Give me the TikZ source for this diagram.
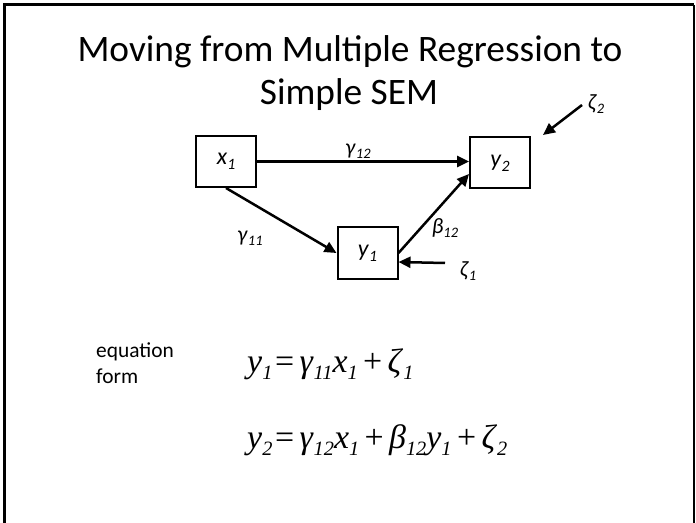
\documentclass[tikz,border=0pt]{standalone}
\usepackage{fontspec}
\usepackage{graphicx}
\setmainfont{Carlito}
\newfontfamily\eqfont{Liberation Serif}
\usetikzlibrary{arrows.meta}
\newcommand\myv[2]{\textit{#1}\raisebox{-0.2em}{\scalebox{0.66}{\textit{#2}}}}
\newcommand\myq[2]{\textit{#1}\raisebox{-0.22em}{\scalebox{0.6}{\textit{#2}}}}
\newcommand\gp{\hspace{0.16em}}
\newcommand\gq{\hspace{0.08em}}
\begin{document}
\begin{tikzpicture}[x=1bp,y=-1bp,
  box/.style={draw,line width=2bp,minimum width=60bp,minimum height=51bp,inner sep=0pt,
    font=\fontsize{24}{28}\selectfont},
  arr/.style={line width=2.5bp,-{Triangle[length=12bp,width=11bp]}},
  lbl/.style={font=\fontsize{22}{26}\selectfont,inner sep=0pt},
  ttl/.style={font=\fontsize{37.5}{43}\selectfont,anchor=base,inner sep=0pt},
  eq/.style={font=\eqfont\fontsize{34}{40}\selectfont,anchor=base west,inner sep=0pt}]
\useasboundingbox (0,0) rectangle (696,523);
% frame
\draw[line width=3bp] (4.5,523) -- (4.5,5) -- (694,5);
\draw[line width=1.2bp] (694,5) -- (694,523);
% title
\node[ttl] (t1) at (350,62) {Moving from Multiple Regression to};
\node[ttl] (t2) at (349,105) {Simple SEM};
% boxes
\node[box] (x1) at (226,161.5) {\myv{x}{1}};
\node[box] (y2) at (500,163) {\myv{y}{2}};
\node[box] (y1) at (367.5,253) {\myv{y}{1}};
% labels
\node[lbl] (g12) at (358,151) {\myv{γ}{12}};
\node[lbl] (g11) at (250,238) {\myv{γ}{11}};
\node[lbl] (b12) at (445,228) {\myv{β}{12}};
\node[lbl] (z1) at (468,271) {\myv{ζ}{1}};
\node[lbl] (z2) at (596,104) {\myv{ζ}{2}};
% arrows
\coordinate (z1s) at (445,263);
\coordinate (z2s) at (582,105);
\coordinate (z2e) at (543,135);
\draw[arr] (x1.east) -- (y2.west |- x1.east);
\draw[arr] (x1.south) -- (y1.west);
\draw[arr] (y1.east) -- ([yshift=-11bp]y2.west);
\draw[arr] (z1s) -- ([yshift=-9bp]y1.east);
\draw[arr] (z2s) -- (z2e);
% equations
\node[font=\fontsize{21.5}{26}\selectfont,align=left,anchor=base west,inner sep=0pt] (ef) at (96,383) {equation\\form};
\node[eq] (e1) at (247,372) {\myq{y}{1}\gq=\gp\myq{γ}{11}\myq{x}{1}\gp+\gp\myq{ζ}{1}};
\node[eq] (e2) at (247,448) {\myq{y}{2}\gq=\gp\myq{γ}{12}\myq{x}{1}\gp+\gp\myq{β}{12}\myq{y}{1}\gp+\gp\myq{ζ}{2}};
\end{tikzpicture}
\end{document}
